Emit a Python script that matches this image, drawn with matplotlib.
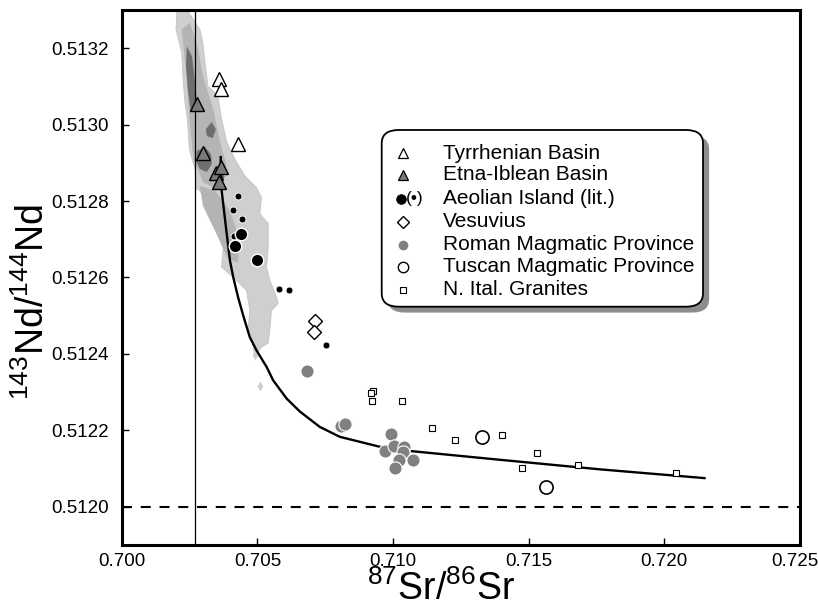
import matplotlib
matplotlib.use("Agg")
import matplotlib.pyplot as plt
import matplotlib.transforms as mtransforms
from matplotlib.patches import FancyBboxPatch, Polygon

plt.rcParams['font.family'] = ['Liberation Sans', 'DejaVu Sans']
plt.rcParams['mathtext.fontset'] = 'custom'
plt.rcParams['mathtext.rm'] = 'Liberation Sans'
plt.rcParams['mathtext.it'] = 'Liberation Sans'

# ---------------- data ----------------
tyrr_x = [0.70359, 0.70365, 0.70428]
tyrr_y = [0.513120, 0.513094, 0.512949]

etna_x = [0.70278, 0.70300, 0.70347, 0.70365, 0.70359]
etna_y = [0.513054, 0.512927, 0.512874, 0.512890, 0.512850]

aeol_small_x = [0.70427, 0.70409, 0.70442, 0.70415, 0.70580, 0.70617, 0.70752]
aeol_small_y = [0.512814, 0.512776, 0.512752, 0.512709, 0.512569, 0.512566, 0.512423]
aeol_big_x = [0.70441, 0.70419, 0.70498]
aeol_big_y = [0.512715, 0.512683, 0.512647]

vesu_x = [0.70713, 0.70708]
vesu_y = [0.512486, 0.512458]

roman_x = [0.70683, 0.70808, 0.70822, 0.70992, 0.70970, 0.71005, 0.71039,
           0.71035, 0.71021, 0.71074, 0.71007]
roman_y = [0.512354, 0.512211, 0.512216, 0.512190, 0.512146, 0.512160, 0.512157,
           0.512143, 0.512123, 0.512122, 0.512102]

tusc_x = [0.71329, 0.71562]
tusc_y = [0.512183, 0.512052]

gran_x = [0.70926, 0.70917, 0.70924, 0.71032, 0.71145, 0.71228, 0.71400,
          0.71532, 0.71477, 0.71681, 0.72044]
gran_y = [0.512303, 0.512298, 0.512277, 0.512277, 0.512205, 0.512174, 0.512187,
          0.512140, 0.512102, 0.512108, 0.512088]

curve_x = [0.70365, 0.70365, 0.70387, 0.70399, 0.70411, 0.70429, 0.70448, 0.70472,
           0.70497, 0.70534, 0.70558, 0.70608, 0.70657, 0.70730, 0.70804, 0.70951,
           0.71062, 0.71393, 0.71761, 0.72148]
curve_y = [0.512915, 0.512848, 0.512714, 0.512644, 0.512601, 0.512548, 0.512500, 0.512444,
           0.512409, 0.512366, 0.512331, 0.512283, 0.512249, 0.512209, 0.512183, 0.512157,
           0.512146, 0.512123, 0.512098, 0.512075]

# density field outline (MORB field), outer level
field_outer_x = [0.70204, 0.70200, 0.70221, 0.70227, 0.70233, 0.70242, 0.70249, 0.70270,
                 0.70276, 0.70288, 0.70337, 0.70374, 0.70368, 0.70410, 0.70460, 0.70472,
                 0.70466, 0.70479, 0.70491, 0.70515, 0.70540, 0.70546, 0.70552, 0.70577,
                 0.70571, 0.70546, 0.70534, 0.70540, 0.70540, 0.70509, 0.70515, 0.70497,
                 0.70454, 0.70417, 0.70387, 0.70368, 0.70355, 0.70318, 0.70307, 0.70299,
                 0.70288, 0.70233]
field_outer_y = [0.513309, 0.513249, 0.513189, 0.513111, 0.513059, 0.513015, 0.512936, 0.512884,
                 0.512832, 0.512827, 0.512767, 0.512679, 0.512627, 0.512601, 0.512566, 0.512514,
                 0.512462, 0.512444, 0.512392, 0.512418, 0.512428, 0.512462, 0.512514, 0.512532,
                 0.512548, 0.512592, 0.512627, 0.512679, 0.512741, 0.512767, 0.512809, 0.512835,
                 0.512866, 0.512910, 0.512955, 0.513015, 0.513074, 0.513101, 0.513163, 0.513215,
                 0.513249, 0.513309]
# middle level
field_mid_x = [0.70221, 0.70239, 0.70249, 0.70264, 0.70300, 0.70350, 0.70387, 0.70362,
               0.70337, 0.70300, 0.70276, 0.70251]
field_mid_y = [0.513249, 0.513127, 0.513015, 0.512910, 0.512849, 0.512832, 0.512893, 0.512955,
               0.513041, 0.513127, 0.513215, 0.513267]
field_mid2_x = [0.70288, 0.70344, 0.70399, 0.70436, 0.70428, 0.70391, 0.70344, 0.70299]
field_mid2_y = [0.512840, 0.512827, 0.512775, 0.512696, 0.512639, 0.512649, 0.512722, 0.512788]
# inner (dark) patches
dark1_x = [0.70240, 0.70259, 0.70270, 0.70277, 0.70274, 0.70255, 0.70244, 0.70237]
dark1_y = [0.513205, 0.513179, 0.513114, 0.513061, 0.513035, 0.513035, 0.513088, 0.513153]
dark2_x = [0.70277, 0.70307, 0.70329, 0.70332, 0.70314, 0.70288, 0.70274]
dark2_y = [0.512931, 0.512941, 0.512923, 0.512897, 0.512876, 0.512884, 0.512905]
dark3_x = [0.70310, 0.70332, 0.70347, 0.70336, 0.70314]
dark3_y = [0.512988, 0.513007, 0.512988, 0.512965, 0.512970]
dark4_x = [0.70336, 0.70362, 0.70380, 0.70355]
dark4_y = [0.512879, 0.512889, 0.512863, 0.512842]
# small isolated field specks
speck_x = [0.70491, 0.70509]
speck_y = [0.512397, 0.512317]

bulk_earth_sr = 0.7027
chur_nd = 0.51200

legend_labels = ["Tyrrhenian Basin", "Etna-Iblean Basin", "Aeolian Island (lit.)",
                 "Vesuvius", "Roman Magmatic Province", "Tuscan Magmatic Province",
                 "N. Ital. Granites"]

xticks = [0.700, 0.705, 0.710, 0.715, 0.720, 0.725]
yticks = [0.5120, 0.5122, 0.5124, 0.5126, 0.5128, 0.5130, 0.5132]

# ---------------- figure ----------------
fig = plt.figure(figsize=(8.18, 6.10), dpi=100)
ax = fig.add_axes([0.1488, 0.1066, 0.8292, 0.877])
ax.set_xlim(0.700, 0.725)
ax.set_ylim(0.5119, 0.5133)

c_light = '#cfcfcf'
c_mid = '#b4b4b4'
c_dark = '#6e6e6e'
ax.add_patch(Polygon(list(zip(field_outer_x, field_outer_y)), closed=True,
                     fc=c_light, ec='#c4c4c4', lw=0.6, zorder=1))
for mxs, mys in [(field_mid_x, field_mid_y), (field_mid2_x, field_mid2_y)]:
    ax.add_patch(Polygon(list(zip(mxs, mys)), closed=True, fc=c_mid, ec='none', zorder=1.1))
for dx, dy in [(dark1_x, dark1_y), (dark2_x, dark2_y), (dark3_x, dark3_y), (dark4_x, dark4_y)]:
    ax.add_patch(Polygon(list(zip(dx, dy)), closed=True, fc=c_dark, ec='none', zorder=1.2))
ax.plot(speck_x, speck_y, ls='none', marker='d', ms=5, mfc=c_light, mec='none', zorder=1.2)

ax.axvline(bulk_earth_sr, color='black', lw=0.9, zorder=2)
ax.axhline(chur_nd, color='black', lw=1.5, ls=(0, (4.8, 4.2)), zorder=2)

ax.plot(curve_x, curve_y, color='black', lw=1.7, zorder=3, solid_joinstyle='round')

ax.plot(tyrr_x, tyrr_y, ls='none', marker='^', ms=10, mfc='white', mec='black', mew=1.0, zorder=5)
ax.plot(etna_x, etna_y, ls='none', marker='^', ms=10, mfc='#7a7a7a', mec='black', mew=1.0, zorder=5)
ax.plot(aeol_small_x, aeol_small_y, ls='none', marker='o', ms=5, mfc='black', mec='white', mew=0.6, zorder=5)
ax.plot(aeol_big_x, aeol_big_y, ls='none', marker='o', ms=9, mfc='black', mec='white', mew=1.0, zorder=5)
ax.plot(vesu_x, vesu_y, ls='none', marker='D', ms=7.5, mfc='white', mec='black', mew=1.0, zorder=5)
ax.plot(roman_x, roman_y, ls='none', marker='o', ms=9.5, mfc='#808080', mec='white', mew=0.8, zorder=5)
ax.plot(tusc_x, tusc_y, ls='none', marker='o', ms=9.5, mfc='white', mec='black', mew=1.2, zorder=5)
ax.plot(gran_x, gran_y, ls='none', marker='s', ms=4.2, mfc='white', mec='black', mew=0.8, zorder=5)

# axes styling
for s in ax.spines.values():
    s.set_linewidth(2.2)
ax.set_xticks(xticks)
ax.set_xticklabels([f"{v:.3f}" for v in xticks])
ax.set_yticks(yticks)
ax.set_yticklabels([f"{v:.4f}" for v in yticks])
ax.tick_params(direction='in', length=5, width=1.0, labelsize=13.5)
ax.tick_params(axis='x', pad=6)
ax.tick_params(axis='y', pad=9)
last = ax.get_xticklabels()[-1]
last.set_transform(last.get_transform() + mtransforms.ScaledTranslation(-0.05, 0, fig.dpi_scale_trans))

fig.text(0.539, 0.004, r'$^{87}$Sr/$^{86}$Sr', ha='center', va='bottom', fontsize=27)
fig.text(0.041, 0.505, r'$^{143}$Nd/$^{144}$Nd', ha='center', va='center', rotation=90, fontsize=27)

# ---------------- legend (drawn manually) ----------------
bx0, by0, bw, bh = 0.3833, 0.4454, 0.4737, 0.3303
shadow = FancyBboxPatch((bx0 + 0.009, by0 - 0.011), bw, bh, transform=ax.transAxes,
                        boxstyle='round,pad=0,rounding_size=0.025', fc='#8c8c8c', ec='none', zorder=8)
box = FancyBboxPatch((bx0, by0), bw, bh, transform=ax.transAxes,
                     boxstyle='round,pad=0,rounding_size=0.025', fc='white', ec='black', lw=1.3, zorder=9)
ax.add_patch(shadow)
ax.add_patch(box)

row_px = [153.3, 175, 199, 221.7, 245, 266.7, 290]
row_y = [(545 - p) / 535 for p in row_px]
mx = (403.3 - 121.7) / 678.3
tx = (443.3 - 121.7) / 678.3
styles = [
    dict(marker='^', ms=7, mfc='white', mec='black', mew=0.9),
    dict(marker='^', ms=7, mfc='#7a7a7a', mec='black', mew=0.9),
    dict(marker='o', ms=7, mfc='black', mec='black', mew=0.5),
    dict(marker='D', ms=6.5, mfc='white', mec='black', mew=1.0),
    dict(marker='o', ms=7, mfc='#808080', mec='none'),
    dict(marker='o', ms=7.5, mfc='white', mec='black', mew=1.0),
    dict(marker='s', ms=4, mfc='white', mec='black', mew=0.8),
]
for yy, lab, st in zip(row_y, legend_labels, styles):
    xx = mx - 0.003 if lab.startswith("Aeolian") else mx
    ax.plot([xx], [yy], ls='none', transform=ax.transAxes, zorder=10, clip_on=False, **st)
    ax.text(tx, yy, lab, transform=ax.transAxes, fontsize=15, va='center', ha='left', zorder=10)
ax.text(mx + 0.0165, row_y[2], "(\u2022)", transform=ax.transAxes, fontsize=12.5,
        va='center', ha='center', zorder=10)

fig.savefig("out.png", dpi=100)
